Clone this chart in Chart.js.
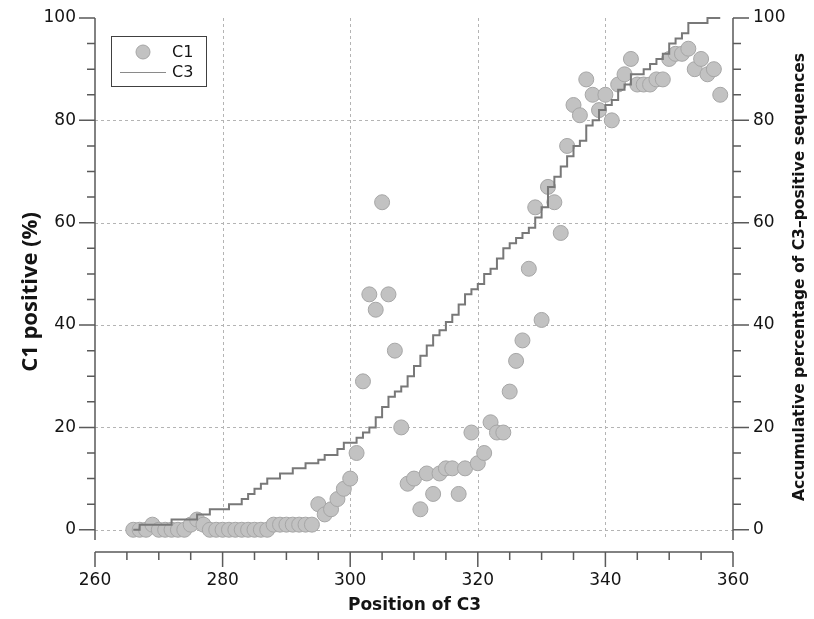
<!DOCTYPE html>
<html>
<head>
<meta charset="utf-8">
<title>C1 positive vs position of C3</title>
<script src="https://cdn.jsdelivr.net/npm/chart.js@4.4.1/dist/chart.umd.min.js"></script>
<style>
    body { margin: 0; background: #ffffff; }
    #wrap { width: 814px; height: 619px; }
</style>
</head>
<body>
<div id="wrap"><canvas id="c1Chart" width="814" height="619"></canvas></div>
<script>
// Position of C3 (x values, shared by both series)
const positions = [
    266, 267, 268, 269, 270, 271, 272, 273, 274, 275, 276, 277, 278, 279, 280, 281,
    282, 283, 284, 285, 286, 287, 288, 289, 290, 291, 292, 293, 294, 295, 296, 297,
    298, 299, 300, 301, 302, 303, 304, 305, 306, 307, 308, 309, 310, 311, 312, 313,
    314, 315, 316, 317, 318, 319, 320, 321, 322, 323, 324, 325, 326, 327, 328, 329,
    330, 331, 332, 333, 334, 335, 336, 337, 338, 339, 340, 341, 342, 343, 344, 345,
    346, 347, 348, 349, 350, 351, 352, 353, 354, 355, 356, 357, 358
];

// C1 positive (%)
const c1Values = [
    0, 0, 0, 1, 0, 0, 0, 0, 0, 1, 2, 1, 0, 0, 0, 0,
    0, 0, 0, 0, 0, 0, 1, 1, 1, 1, 1, 1, 1, 5, 3, 4,
    6, 8, 10, 15, 29, 46, 43, 64, 46, 35, 20, 9, 10, 4, 11, 7,
    11, 12, 12, 7, 12, 19, 13, 15, 21, 19, 19, 27, 33, 37, 51, 63,
    41, 67, 64, 58, 75, 83, 81, 88, 85, 82, 85, 80, 87, 89, 92, 87,
    87, 87, 88, 88, 92, 93, 93, 94, 90, 92, 89, 90, 85
];

// Accumulative percentage of C3-positive sequences
const c3Values = [
    0, 1, 1, 1, 1, 1, 2, 2, 2, 2, 3, 3, 4, 4, 4, 5,
    5, 6, 7, 8, 9, 10, 10, 11, 11, 12, 12, 13, 13, 13.7, 14.6, 14.6,
    15.8, 17, 17, 18, 19, 20, 22, 24, 26, 27, 28, 30, 32, 34, 36, 38,
    39, 40.6, 42, 44, 46, 47, 48, 50, 51, 53, 55, 56, 57, 58, 59, 61,
    63, 67, 69, 71, 73, 75, 76, 79, 80, 82, 83, 84, 86, 87, 89, 89,
    90, 91, 92, 93, 95, 96, 97, 99, 99, 99, 100, 100, 100
];

// Tick labels
const xTicks = [260, 280, 300, 320, 340, 360];
const yTicks = [0, 20, 40, 60, 80, 100];

const TICK_FONT = '17px "DejaVu Sans"';
const AXIS_COLOR = '#5a5a5a';
const TEXT_COLOR = '#141414';

document.addEventListener('DOMContentLoaded', function() {
    initializeChart();
});

// Grid, offset axes, titles and the boxed legend
const offsetAxesPlugin = {
    id: 'offsetAxes',
    beforeDatasetsDraw(chart) {
        const { ctx, chartArea, scales } = chart;
        const x = scales.x, y = scales.y;
        ctx.save();
        ctx.strokeStyle = '#b4b4b4';
        ctx.lineWidth = 1;
        ctx.setLineDash([3, 3]);
        xTicks.slice(1, -1).forEach(v => {
            const px = Math.round(x.getPixelForValue(v)) + 0.5;
            ctx.beginPath();
            ctx.moveTo(px, y.getPixelForValue(100));
            ctx.lineTo(px, chartArea.bottom);
            ctx.stroke();
        });
        yTicks.slice(0, -1).forEach(v => {
            const py = Math.round(y.getPixelForValue(v)) + 0.5;
            ctx.beginPath();
            ctx.moveTo(chartArea.left, py);
            ctx.lineTo(chartArea.right, py);
            ctx.stroke();
        });
        ctx.restore();
    },
    afterDatasetsDraw(chart) {
        const { ctx, chartArea, scales } = chart;
        const x = scales.x, y = scales.y, y2 = scales.y2;
        const top = y.getPixelForValue(100);
        const xAxisY = chartArea.bottom + 12;

        ctx.save();
        ctx.strokeStyle = AXIS_COLOR;
        ctx.lineWidth = 1.5;

        // left and right axis lines
        ctx.beginPath();
        ctx.moveTo(chartArea.left, top);
        ctx.lineTo(chartArea.left, chartArea.bottom);
        ctx.moveTo(chartArea.right, top);
        ctx.lineTo(chartArea.right, chartArea.bottom);
        // x axis line, set below the plot
        ctx.moveTo(chartArea.left, xAxisY);
        ctx.lineTo(chartArea.right, xAxisY);
        ctx.stroke();

        // y ticks every 5, long at labelled values
        ctx.beginPath();
        for (let v = 0; v <= 100; v += 5) {
            const len = yTicks.includes(v) ? 16 : 8;
            const py = y.getPixelForValue(v);
            const py2 = y2.getPixelForValue(v);
            ctx.moveTo(chartArea.left - len, py);
            ctx.lineTo(chartArea.left, py);
            ctx.moveTo(chartArea.right, py2);
            ctx.lineTo(chartArea.right + len, py2);
        }
        // x ticks every 5, pointing down
        for (let v = 260; v <= 360; v += 5) {
            const len = xTicks.includes(v) ? 15 : 8;
            const px = x.getPixelForValue(v);
            ctx.moveTo(px, xAxisY);
            ctx.lineTo(px, xAxisY + len);
        }
        ctx.stroke();

        // tick labels
        ctx.fillStyle = TEXT_COLOR;
        ctx.font = TICK_FONT;
        ctx.textBaseline = 'middle';
        ctx.textAlign = 'right';
        yTicks.forEach(v => ctx.fillText(String(v), chartArea.left - 19, y.getPixelForValue(v)));
        ctx.textAlign = 'left';
        yTicks.forEach(v => ctx.fillText(String(v), chartArea.right + 20, y2.getPixelForValue(v)));
        ctx.textAlign = 'center';
        xTicks.forEach(v => ctx.fillText(String(v), x.getPixelForValue(v), xAxisY + 29));

        // axis titles
        ctx.font = 'bold 17px "DejaVu Sans"';
        ctx.fillText('Position of C3', (chartArea.left + chartArea.right) / 2 + 0.5, 606, 150);

        ctx.save();
        ctx.translate(31, 292);
        ctx.rotate(-Math.PI / 2);
        ctx.font = 'bold 22px "Open Sans"';
        ctx.fillText('C1 positive (%)', 0, 0, 160);
        ctx.restore();

        ctx.save();
        ctx.translate(800, 277);
        ctx.rotate(-Math.PI / 2);
        ctx.font = 'bold 15.5px "DejaVu Sans"';
        ctx.fillText('Accumulative percentage of C3\u2013positive sequences', 0, 0, 506);
        ctx.restore();

        // legend box
        ctx.fillStyle = '#ffffff';
        ctx.fillRect(111, 36, 96, 51);
        ctx.lineWidth = 1;
        ctx.strokeStyle = '#404040';
        ctx.strokeRect(111.5, 36.5, 95, 50);

        ctx.beginPath();
        ctx.arc(143, 52, 7, 0, Math.PI * 2);
        ctx.fillStyle = '#c2c2c2';
        ctx.fill();
        ctx.strokeStyle = '#a6a6a6';
        ctx.stroke();

        ctx.beginPath();
        ctx.moveTo(120, 72.5);
        ctx.lineTo(166, 72.5);
        ctx.strokeStyle = '#8a8a8a';
        ctx.lineWidth = 1.2;
        ctx.stroke();

        ctx.fillStyle = TEXT_COLOR;
        ctx.font = '16px "DejaVu Sans"';
        ctx.textAlign = 'left';
        ctx.fillText('C1', 172, 53);
        ctx.fillText('C3', 172, 73);
        ctx.restore();
    }
};

// Function to initialize the scatter + step chart
function initializeChart() {
    const ctx = document.getElementById('c1Chart').getContext('2d');
    const c1Points = positions.map((p, i) => ({ x: p, y: c1Values[i] }));
    const c3Points = positions.map((p, i) => ({ x: p, y: c3Values[i] }));

    window.c1Chart = new Chart(ctx, {
        type: 'scatter',
        data: {
            datasets: [{
                label: 'C3',
                type: 'line',
                data: c3Points,
                yAxisID: 'y2',
                stepped: 'before',
                borderColor: '#787878',
                borderWidth: 2,
                pointRadius: 0,
                fill: false,
                clip: 4,
                order: 0
            }, {
                label: 'C1',
                data: c1Points,
                yAxisID: 'y',
                backgroundColor: '#c2c2c2',
                borderColor: '#a6a6a6',
                borderWidth: 1,
                pointRadius: 7.5,
                clip: false,
                order: 1
            }]
        },
        options: {
            responsive: false,
            animation: false,
            layout: {
                padding: { left: 95, right: 81, top: 18, bottom: 79 }
            },
            plugins: {
                legend: { display: false },
                tooltip: { enabled: false }
            },
            scales: {
                x: { type: 'linear', min: 260, max: 360, display: false },
                y: { type: 'linear', min: -2, max: 100, display: false },
                y2: { type: 'linear', min: -2, max: 100, display: false, position: 'right' }
            }
        },
        plugins: [offsetAxesPlugin]
    });
}
</script>
</body>
</html>
